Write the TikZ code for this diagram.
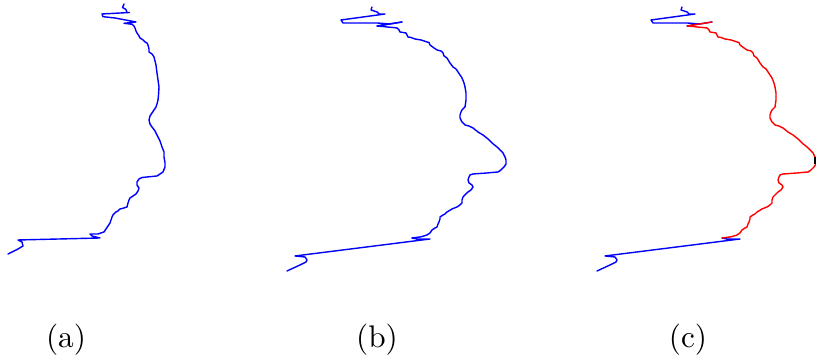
\documentclass[tikz,border=0pt]{standalone}
\usetikzlibrary{positioning}

\begin{document}
\begin{tikzpicture}[x=0.32pt, y=-0.32pt, line join=round, line cap=round]
    \useasboundingbox (0,0) rectangle (816,358);
    \tikzset{trace/.style={line width=0.45pt}}
    % traced boundary of panel (b), in three pieces
    \def\edgetop{(372,7) -- (371,10) -- (377,12) -- (379,14) -- (385,14) -- (341,20) -- (343,23) -- (350,23) -- (377,23) -- (390,24) -- (402,22) -- (377,26)}
    \def\edgemid{(402,22) -- (377,26) -- (383,26.5) -- (387,27) -- (393,27.5) -- (397,28) -- (399,30) -- (400,32) -- (403,32.5) -- (406,33) -- (407,35) -- (408,37) -- (411,37.5) -- (415,39) -- (421,40) -- (427,42) -- (429,42.5) -- (430,45) -- (434,48) -- (437,50) -- (441,51) -- (443,53) -- (444,56) -- (447,58) -- (450,63) -- (453,67) -- (456,69) -- (458,72) -- (460,75) -- (462,78) -- (464,83) -- (465,87) -- (466,93) -- (466,100) -- (465,107) -- (462,110) -- (461,112) -- (460,115) -- (460,118) -- (462,122) -- (465,125) -- (469,126) -- (473,128) -- (478,132) -- (483,135) -- (488,139) -- (492,143) -- (497,147) -- (500,150) -- (503,153) -- (505,157) -- (506,160) -- (506,164) -- (504,167) -- (501,170) -- (498,172) -- (492,172.5) -- (487,173) -- (480,173.5) -- (473,174) -- (470,175) -- (469,177) -- (468,180) -- (469,183) -- (472,185) -- (473,187) -- (471,190) -- (468,192) -- (465,195) -- (463,197) -- (462,200) -- (462,203) -- (460,205) -- (457,207) -- (452,209) -- (447,212) -- (445,214) -- (443,215) -- (440,217) -- (440,219) -- (439,222) -- (438,224) -- (437,227) -- (435,228) -- (432,230) -- (430,233) -- (427,235) -- (424,236) -- (420,237) -- (412,238)}
    \def\edgebot{(412,238) -- (417,239) -- (430,239) -- (295,256) -- (300,256.5) -- (305,257) -- (307,260) -- (306,262) -- (300,265) -- (287,271)}

    % panel (a)
    \draw[trace, blue] (124,4) -- (122.5,7.5) -- (126,9.5) -- (127,12.5) -- (129.5,12.5) -- (102,14) -- (103,16.7) -- (115,18) -- (136,22) -- (124,23.3) -- (132,24.3) -- (134,26) -- (135,28) -- (136,31) -- (137,33) -- (139,36) -- (140,38) -- (143,40) -- (145,42) -- (147,43) -- (148,45) -- (149,49) -- (149,52) -- (152,54) -- (154,57) -- (155,61) -- (156,65) -- (157,73) -- (158,80) -- (159,87) -- (158.5,95) -- (158,100) -- (157,104) -- (156,107) -- (154,110) -- (152,113) -- (150,116) -- (149,120) -- (150,124) -- (152,127) -- (155,131) -- (157,135) -- (160,141) -- (162,147) -- (164,152) -- (164,157) -- (165,163) -- (165,167) -- (163,172) -- (160,174) -- (157,176) -- (152,176.5) -- (147,177) -- (142,177.5) -- (139,179) -- (137,182) -- (137,185) -- (139,188) -- (138,191) -- (136,194) -- (133,196) -- (130,198) -- (129,200) -- (128,203) -- (127,207) -- (124,208) -- (120,209) -- (118,211) -- (116,212) -- (113,215) -- (112,217) -- (111,220) -- (110,223) -- (108,226) -- (106,229) -- (104,232) -- (101,233) -- (98,234) -- (90,234) -- (92,236) -- (100,238) -- (18,240) -- (22,242) -- (23,246) -- (18,249) -- (8,254);

    % panel (b)
    \draw[trace, blue] \edgetop;
    \draw[trace, blue] \edgemid;
    \draw[trace, blue] \edgebot;

    % panel (c): same boundary, the middle piece in red
    \begin{scope}[shift={(310,0)}]
        \draw[trace, blue] \edgetop;
        \draw[trace, blue] \edgebot;
        \draw[trace, red] \edgemid;
        \draw[black, line width=0.8pt, line cap=butt] (504.8,157) -- (504.8,164);
    \end{scope}

    % captions
    \node (capa) at (66,340) {(a)};
    \node (capb) at (377,340) {(b)};
    \node (capc) at (688,340) {(c)};
\end{tikzpicture}
\end{document}
